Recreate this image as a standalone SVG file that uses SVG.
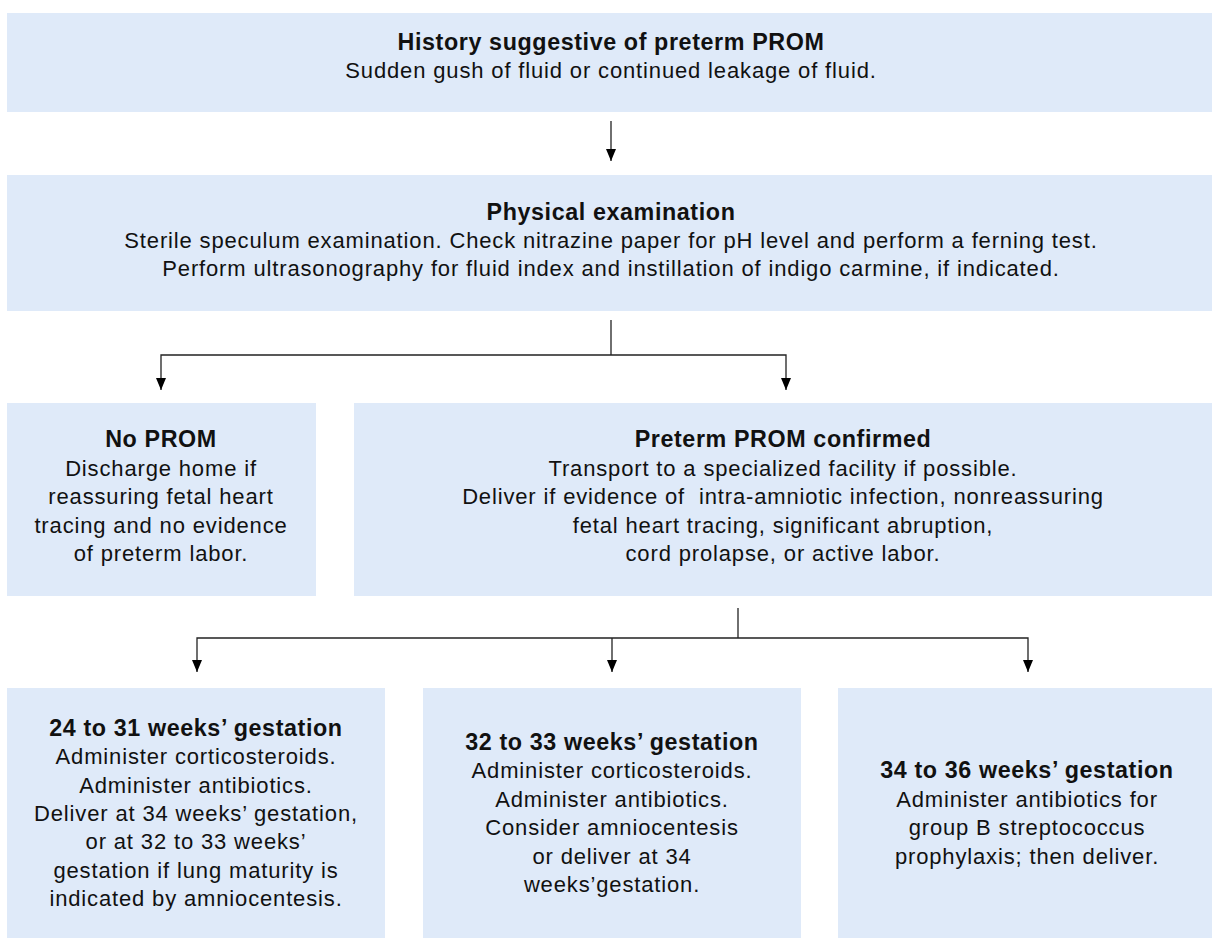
<svg xmlns="http://www.w3.org/2000/svg" width="1212" height="938" viewBox="0 0 1212 938">
<defs>
<style>
.box{fill:#dfeaf9;}
text{font-family:"Liberation Sans",Arial,sans-serif;font-size:22px;letter-spacing:0.85px;fill:#111;text-anchor:middle;}
.t{font-weight:bold;font-size:23.3px;letter-spacing:0.6px;}
.c{stroke:#222;stroke-width:1.3;fill:none;}
</style>
<marker id="ah" viewBox="0 0 12 10" refX="12" refY="5" markerWidth="12" markerHeight="10" markerUnits="userSpaceOnUse" orient="auto">
<path d="M0,0 L12,5 L0,10 Z" fill="#000"/>
</marker>
</defs>
<rect width="1212" height="938" fill="#fff"/>
<g id="n1"><rect class="box" x="7" y="13" width="1205" height="99"/>
<text class="t" x="611" y="50">History suggestive of preterm PROM</text>
<text x="611" y="78">Sudden gush of fluid or continued leakage of fluid.</text></g>
<g id="n2"><rect class="box" x="7" y="175" width="1205" height="136"/>
<text class="t" x="611" y="220">Physical examination</text>
<text x="611" y="248">Sterile speculum examination. Check nitrazine paper for pH level and perform a ferning test.</text>
<text x="611" y="276">Perform ultrasonography for fluid index and instillation of indigo carmine, if indicated.</text></g>
<g id="n3"><rect class="box" x="7" y="403" width="309" height="193"/>
<text class="t" x="161" y="447">No PROM</text>
<text x="161" y="476">Discharge home if</text>
<text x="161" y="504">reassuring fetal heart</text>
<text x="161" y="533">tracing and no evidence</text>
<text x="161" y="561">of preterm labor.</text></g>
<g id="n4"><rect class="box" x="354" y="403" width="858" height="193"/>
<text class="t" x="783" y="447">Preterm PROM confirmed</text>
<text x="783" y="476">Transport to a specialized facility if possible.</text>
<text x="783" y="504" xml:space="preserve">Deliver if evidence of  intra-amniotic infection, nonreassuring</text>
<text x="783" y="533">fetal heart tracing, significant abruption,</text>
<text x="783" y="561">cord prolapse, or active labor.</text></g>
<g id="n5"><rect class="box" x="7" y="688" width="378" height="250"/>
<text class="t" x="196" y="736">24 to 31 weeks’ gestation</text>
<text x="196" y="764">Administer corticosteroids.</text>
<text x="196" y="793">Administer antibiotics.</text>
<text x="196" y="821">Deliver at 34 weeks’ gestation,</text>
<text x="196" y="849">or at 32 to 33 weeks’</text>
<text x="196" y="878">gestation if lung maturity is</text>
<text x="196" y="906">indicated by amniocentesis.</text></g>
<g id="n6"><rect class="box" x="423" y="688" width="378" height="250"/>
<text class="t" x="612" y="750">32 to 33 weeks’ gestation</text>
<text x="612" y="778">Administer corticosteroids.</text>
<text x="612" y="807">Administer antibiotics.</text>
<text x="612" y="835">Consider amniocentesis</text>
<text x="612" y="864">or deliver at 34</text>
<text x="612" y="892">weeks’gestation.</text></g>
<g id="n7"><rect class="box" x="838" y="688" width="374" height="250"/>
<text class="t" x="1027" y="778">34 to 36 weeks’ gestation</text>
<text x="1027" y="807">Administer antibiotics for</text>
<text x="1027" y="835">group B streptococcus</text>
<text x="1027" y="864">prophylaxis; then deliver.</text></g>
<g id="connectors">
<path class="c" d="M611,121 V161" marker-end="url(#ah)"/>
<path class="c" d="M611,320 V355"/>
<path class="c" d="M611,355 H161 V390" marker-end="url(#ah)"/>
<path class="c" d="M611,355 H786 V390" marker-end="url(#ah)"/>
<path class="c" d="M738,608 V638"/>
<path class="c" d="M738,638 H197 V672" marker-end="url(#ah)"/>
<path class="c" d="M612,638 V672" marker-end="url(#ah)"/>
<path class="c" d="M738,638 H1028 V672" marker-end="url(#ah)"/>
</g>
</svg>
